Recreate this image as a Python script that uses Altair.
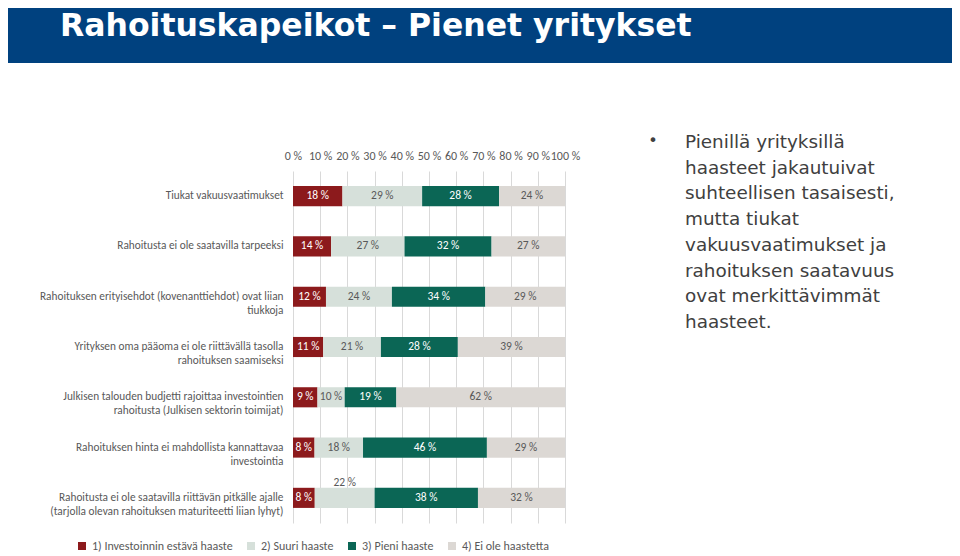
import altair as alt
import pandas as pd

# ---- data ----
categories = [
    "Tiukat vakuusvaatimukset",
    "Rahoitusta ei ole saatavilla tarpeeksi",
    "Rahoituksen erityisehdot (kovenanttiehdot) ovat liian|tiukkoja",
    "Yrityksen oma pääoma ei ole riittävällä tasolla|rahoituksen saamiseksi",
    "Julkisen talouden budjetti rajoittaa investointien|rahoitusta (Julkisen sektorin toimijat)",
    "Rahoituksen hinta ei mahdollista kannattavaa|investointia",
    "Rahoitusta ei ole saatavilla riittävän pitkälle ajalle|(tarjolla olevan rahoituksen maturiteetti liian lyhyt)",
]
series = ["1) Investoinnin estävä haaste", "2) Suuri haaste", "3) Pieni haaste", "4) Ei ole haastetta"]
s1 = [18, 14, 12, 11, 9, 8, 8]
s2 = [29, 27, 24, 21, 10, 18, 22]
s3 = [28, 32, 34, 28, 19, 46, 38]
s4 = [24, 27, 29, 39, 62, 29, 32]
raised_labels = [(6, 1)]  # (row, series) whose label sits above the bar
x_ticks = [0, 10, 20, 30, 40, 50, 60, 70, 80, 90, 100]

title_text = "Rahoituskapeikot – Pienet yritykset"
bullet_lines = [
    "Pienillä yrityksillä",
    "haasteet jakautuivat",
    "suhteellisen tasaisesti,",
    "mutta tiukat",
    "vakuusvaatimukset ja",
    "rahoituksen saatavuus",
    "ovat merkittävimmät",
    "haasteet.",
]

colors = ["#8c1a1c", "#d6e0da", "#0b6655", "#dcd8d4"]
text_colors = ["#ffffff", "#595959", "#ffffff", "#595959"]

rows = []
for ci, cat in enumerate(categories):
    for si, vals in enumerate([s1, s2, s3, s4]):
        rows.append({
            "category": cat, "series": series[si], "sidx": si, "value": vals[ci],
            "tcolor": text_colors[si],
            "raised": (ci, si) in raised_labels,
        })
df = pd.DataFrame(rows)

FONT = "Carlito, Lato"
PX0, PY0 = 293, 171  # plot origin in page coordinates
SVG_W, SVG_H = 944, 548

base = (
    alt.Chart(df)
    .transform_joinaggregate(total="sum(value)", groupby=["category"])
    .transform_calculate(pct="datum.value / datum.total * 100")
    .transform_stack(stack="pct", groupby=["category"], sort=[alt.SortField("sidx")], as_=["x0", "x1"])
    .transform_calculate(mid="(datum.x0 + datum.x1) / 2", label="datum.value + ' %'")
)

xscale = alt.Scale(domain=[0, 100], nice=False)
xaxis = alt.Axis(
    orient="top", title=None, values=x_ticks, labelExpr="datum.value + ' %'",
    domain=False, ticks=False, grid=True, gridColor="#d9d9d9", labelPadding=9,
    labelFont=FONT, labelFontSize=12, labelColor="#595959", labelFlush=False,
    labelOverlap=False, labelSeparation=0,
)
yscale = alt.Scale(paddingInner=0.6, paddingOuter=0.3)
yaxis = alt.Axis(
    title=None, domain=False, ticks=False, labelPadding=10, labelLimit=500,
    labelExpr="split(datum.label, '|')", labelFont=FONT, labelFontSize=11.3,
    labelColor="#595959", labelLineHeight=14,
)

bars = base.mark_bar().encode(
    x=alt.X("x0:Q", scale=xscale, axis=xaxis),
    x2="x1:Q",
    y=alt.Y("category:N", sort=categories, scale=yscale, axis=yaxis),
    color=alt.Color(
        "series:N", scale=alt.Scale(domain=series, range=colors),
        legend=alt.Legend(
            title=None, orient="none", direction="horizontal",
            legendX=80 - PX0 - 4, legendY=547 - PY0 - 7,
            symbolType="square", symbolSize=64, symbolStrokeWidth=0,
            labelFont=FONT, labelFontSize=12, labelColor="#595959",
            columnPadding=12, symbolOffset=0, labelOffset=4,
        ),
    ),
)

labels = base.transform_filter("!datum.raised").mark_text(font=FONT, fontSize=11.5).encode(
    x=alt.X("mid:Q", scale=xscale, axis=xaxis),
    y=alt.Y("category:N", sort=categories, scale=yscale, axis=yaxis),
    text="label:N",
    color=alt.Color("tcolor:N", scale=None),
)
labels_up = base.transform_filter("datum.raised").mark_text(font=FONT, fontSize=11.5, dy=-15).encode(
    x=alt.X("mid:Q", scale=xscale, axis=xaxis),
    y=alt.Y("category:N", sort=categories, scale=yscale, axis=yaxis),
    text="label:N",
    color=alt.value("#595959"),
)

one = pd.DataFrame({"k": [0]})
title_bar = alt.Chart(one).mark_rect(color="#00417f").encode(
    x=alt.value(-PX0), x2=alt.value(960 - PX0), y=alt.value(-PY0), y2=alt.value(63 - PY0)
)
title_mark = alt.Chart(one).mark_text(
    text=title_text, align="left", baseline="alphabetic", font="DejaVu Sans",
    fontWeight="bold", fontSize=31.5, color="white",
).encode(x=alt.value(60 - PX0), y=alt.value(36 - PY0))

bullet = alt.Chart(one).mark_text(
    text="•", align="center", baseline="alphabetic", font="DejaVu Sans", fontSize=16, color="#404040",
).encode(x=alt.value(653 - PX0), y=alt.value(146 - PY0))
para = alt.Chart(one).mark_text(
    text=bullet_lines, align="left", baseline="alphabetic", font="DejaVu Sans",
    fontSize=18.4, lineHeight=25.7, color="#404040",
).encode(x=alt.value(685 - PX0), y=alt.value(148 - PY0))

chart = (
    alt.layer(title_bar, title_mark, bars, labels, labels_up, bullet, para)
    .properties(
        width=272, height=352,
        autosize=alt.AutoSizeParams(type="none"),
        padding={"left": PX0 - 8, "top": PY0 - 8, "right": SVG_W - (PX0 - 8) - 272,
                 "bottom": SVG_H - (PY0 - 8) - 352},
        background="white",
    )
    .configure_view(stroke=None)
    .configure_axisX(labelOverlap=False)
)

chart.save("out.html", embed_options={"renderer": "svg", "actions": False})
